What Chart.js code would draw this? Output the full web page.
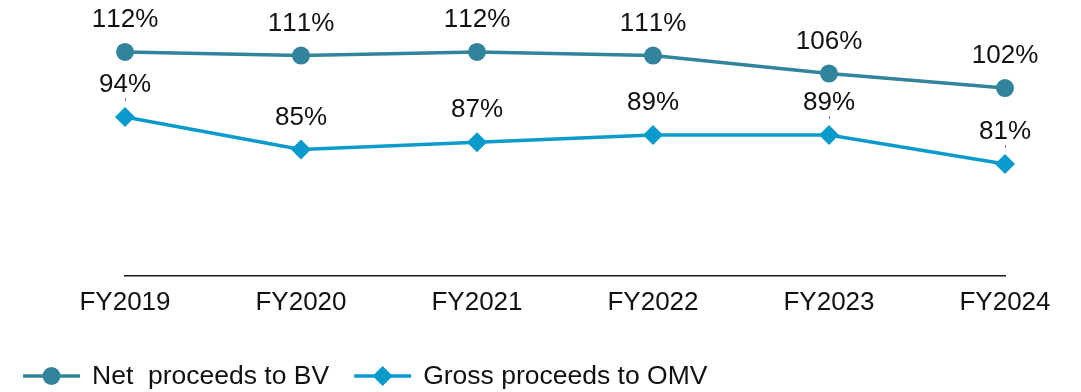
<!DOCTYPE html>
<html>
<head>
<meta charset="utf-8">
<script src="https://cdn.jsdelivr.net/npm/chart.js@4.4.1/dist/chart.umd.min.js"></script>
<style>
  html, body { margin: 0; padding: 0; background: #ffffff; }
  #wrap { width: 1081px; height: 392px; position: relative; }
</style>
</head>
<body>
<div id="wrap"><canvas id="c"></canvas></div>
<script>
// Fiscal years on the x axis
const years = ['FY2019', 'FY2020', 'FY2021', 'FY2022', 'FY2023', 'FY2024'];
// Net proceeds as a percentage of book value
const netToBV = [112, 111, 112, 111, 106, 102];
// Gross proceeds as a percentage of open market value
const grossToOMV = [94, 85, 87, 89, 89, 81];
// Labels that carry a short leader tick beneath them
const grossLeader = [true, false, false, false, true, true];

const FONT = '"Liberation Sans", Arial, sans-serif';

// Percentage labels above each point
const valueLabels = {
  id: 'valueLabels',
  afterDatasetsDraw(chart) {
    const ctx = chart.ctx;
    ctx.save();
    ctx.font = '26px ' + FONT;
    if ('fontKerning' in ctx) ctx.fontKerning = 'none';
    ctx.textAlign = 'center';
    ctx.textBaseline = 'alphabetic';
    chart.data.datasets.forEach((ds, i) => {
      const meta = chart.getDatasetMeta(i);
      meta.data.forEach((pt, j) => {
        const y = pt.y - 25;
        ctx.fillStyle = '#111111';
        ctx.fillText(ds.data[j] + '%', pt.x, y);
        if (ds.leaders && ds.leaders[j]) {
          ctx.strokeStyle = '#7f7f7f';
          ctx.lineWidth = 1;
          ctx.beginPath();
          ctx.moveTo(pt.x + 0.5, y + 6);
          ctx.lineTo(pt.x + 0.5, y + 9);
          ctx.stroke();
        }
      });
    });
    ctx.restore();
  }
};

// Legend row: line sample with marker, then the series name
const lineLegend = {
  id: 'lineLegend',
  afterDraw(chart) {
    const ctx = chart.ctx;
    ctx.save();
    ctx.font = '26.5px ' + FONT;
    if ('fontKerning' in ctx) ctx.fontKerning = 'none';
    ctx.textBaseline = 'middle';
    ctx.textAlign = 'left';
    let x = 23;
    const y = 376;
    chart.data.datasets.forEach(ds => {
      ctx.strokeStyle = ds.borderColor;
      ctx.lineWidth = 3.5;
      ctx.beginPath();
      ctx.moveTo(x, y);
      ctx.lineTo(x + 57, y);
      ctx.stroke();
      const cx = x + 28.5;
      ctx.fillStyle = ds.borderColor;
      ctx.beginPath();
      if (ds.pointStyle === 'rectRot') {
        const r = ds.pointRadius;
        ctx.moveTo(cx - r, y);
        ctx.lineTo(cx, y - r);
        ctx.lineTo(cx + r, y);
        ctx.lineTo(cx, y + r);
        ctx.closePath();
      } else {
        ctx.arc(cx, y, ds.pointRadius, 0, Math.PI * 2);
      }
      ctx.fill();
      ctx.fillStyle = '#111111';
      ctx.fillText(ds.label, x + 69, y + 1);
      x += 69 + ctx.measureText(ds.label).width + 25;
    });
    ctx.restore();
  }
};

new Chart(document.getElementById('c'), {
  type: 'line',
  data: {
    labels: years,
    datasets: [
      {
        label: 'Net  proceeds to BV',
        data: netToBV,
        borderColor: '#31849B',
        backgroundColor: '#31849B',
        borderWidth: 3.5,
        pointStyle: 'circle',
        pointRadius: 9,
        pointBorderWidth: 0,
        pointBackgroundColor: '#31849B',
        tension: 0
      },
      {
        label: 'Gross proceeds to OMV',
        data: grossToOMV,
        leaders: grossLeader,
        borderColor: '#0A9ACB',
        backgroundColor: '#0A9ACB',
        borderWidth: 3.5,
        pointStyle: 'rectRot',
        pointRadius: 10,
        pointBorderWidth: 0,
        pointBackgroundColor: '#0A9ACB',
        tension: 0
      }
    ]
  },
  options: {
    responsive: true,
    maintainAspectRatio: false,
    devicePixelRatio: 1,
    animation: false,
    layout: { padding: { top: 23, left: 125, right: 76, bottom: 0 } },
    plugins: {
      legend: { display: false },
      tooltip: { enabled: false }
    },
    scales: {
      x: {
        type: 'category',
        offset: false,
        grid: { display: false, drawTicks: false },
        border: { display: true, color: '#1a1a1a', width: 1.5 },
        ticks: {
          color: '#111111',
          font: { family: FONT, size: 26 },
          padding: 11,
          maxRotation: 0,
          autoSkip: false
        },
        afterFit(scale) { scale.height = 116; }
      },
      y: {
        display: false,
        min: 50,
        max: 120
      }
    }
  },
  plugins: [valueLabels, lineLegend]
});
</script>
</body>
</html>
